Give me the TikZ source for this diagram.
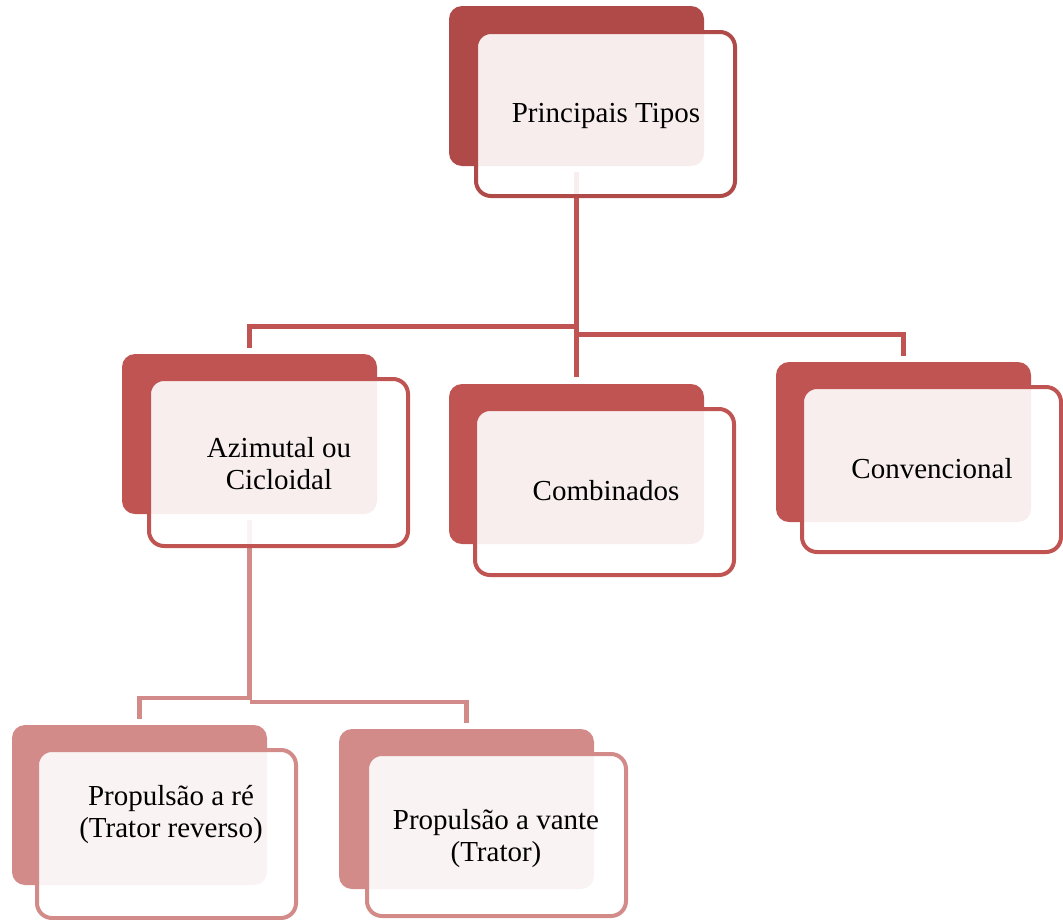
\documentclass[tikz,border=0pt]{standalone}
\usepackage{fontspec}
\setmainfont{Liberation Serif}
\definecolor{cA}{RGB}{176,74,72}
\definecolor{cB}{RGB}{192,84,82}
\definecolor{cC}{RGB}{210,139,137}
\tikzset{
  backbox/.style={anchor=north west, inner sep=0pt, outer sep=0pt, rounded corners=13pt, fill=#1, minimum width=255pt, minimum height=160pt},
  frontbox/.style={anchor=north west, inner sep=0pt, outer sep=0pt, rounded corners=15pt, draw=#1, line width=4pt, fill=white, fill opacity=0.9, minimum width=259pt, minimum height=162pt},
  label/.style={inner sep=0pt, align=center, font=\fontsize{29}{32}\selectfont, text=black},
  connA/.style={draw=cB, line width=5pt},
  connB/.style={draw=cC, line width=4.5pt},
}
\begin{document}
\begin{tikzpicture}[x=1pt,y=-1pt]
\useasboundingbox (0,0) rectangle (1063,919);
% back boxes (named for connectors)
\node[backbox=cA] (b0) at (449,6) {};
\node[backbox=cB] (b1) at (122,354) {};
\node[backbox=cB] (b2) at (449,384) {};
\node[backbox=cB] (b3) at (776,362) {};
\node[backbox=cC] (b4) at (12,725) {};
\node[backbox=cC] (b5) at (339,729) {};
% connectors (drawn under the front boxes)
\draw[connA] ([yshift=-6pt]b0.south) -- ([yshift=7pt]b2.north);
\draw[connA] ([yshift=-160pt]b0.south) -| ([yshift=6pt]b1.north);
\draw[connA] ([yshift=-168pt]b0.south) -| ([yshift=6pt]b3.north);
\draw[connB] ([yshift=-6pt]b1.south) -- ([yshift=-186pt]b1.south);
\draw[connB] ([yshift=-184pt]b1.south) -| ([yshift=6pt]b4.north);
\draw[connB] ([yshift=-188pt]b1.south) -| ([yshift=6pt]b5.north);
% front boxes
\node[frontbox=cA, minimum height=164pt] (f0) at (476,32) {};
\node[frontbox=cB, minimum height=167pt] (f1) at (149,379) {};
\node[frontbox=cB, minimum height=166pt] (f2) at (475,409) {};
\node[frontbox=cB, minimum height=165pt] (f3) at (802,387) {};
\node[frontbox=cC, minimum height=168pt] (f4) at (37,750) {};
\node[frontbox=cC, minimum height=162pt] (f5) at (367,754) {};
% labels
\node[label, anchor=base] (t0) at (606,122) {Principais Tipos};
\node[label] (t1) at (279,464) {Azimutal ou\\Cicloidal};
\node[label, anchor=base] (t2) at (606,500) {Combinados};
\node[label, anchor=base] (t3) at (932,478) {Convencional};
\node[label] (t4) at (171,814) {Propulsão a ré\\(Trator reverso)};
\node[label] (t5) at (496,839) {Propulsão a vante\\(Trator)};
\end{tikzpicture}
\end{document}
